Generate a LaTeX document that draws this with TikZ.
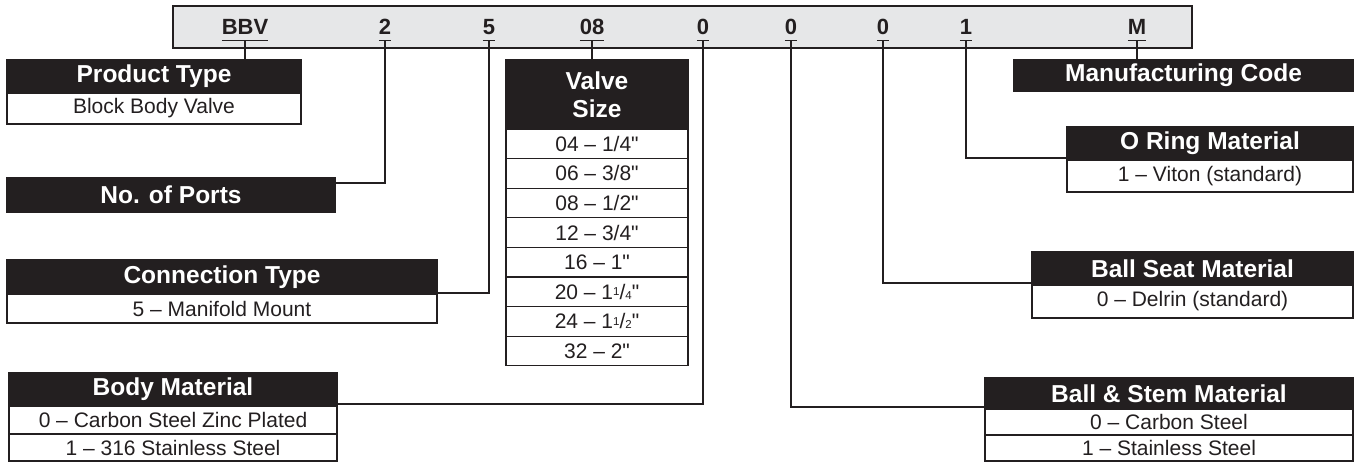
\documentclass[tikz,border=0pt]{standalone}
\usepackage{fontspec}
\setmainfont{Liberation Sans}
\newfontfamily\plainsans[Ligatures=TeXOff]{Liberation Sans}
\definecolor{ink}{HTML}{231F20}
\definecolor{barfill}{HTML}{E6E7E8}
\newcommand{\fracq}[2]{\raisebox{3.5pt}{\fontsize{11.5}{11.5}\selectfont #1}/{\fontsize{11.5}{11.5}\selectfont #2}}
\begin{document}
\begin{tikzpicture}[x=1pt,y=-1pt,
  every node/.style={inner sep=0pt,outer sep=0pt},
  hdr/.style={draw=ink,fill=ink,text=white,line width=1.2pt,anchor=north west,
    font=\fontsize{24.5}{28}\selectfont\bfseries,align=center},
  rowb/.style={draw=ink,fill=white,text=ink,line width=1.2pt,anchor=north west,
    font=\fontsize{21}{22}\selectfont},
  vrow/.style={rowb,minimum width=182,minimum height=29.6,font=\fontsize{21}{22}\selectfont\plainsans},
  code/.style={text=ink,anchor=base,font=\fontsize{22}{23}\selectfont\bfseries},
  conn/.style={draw=ink,line width=1.3pt},
  bar/.style={draw=ink,fill=barfill,line width=1.2pt,anchor=north west}
]
\useasboundingbox[fill=white] (0,0) rectangle (1354,462);

% code bar
\node[bar,minimum width=1019,minimum height=42] (bar) at (173,6) {};
\node[code] (cBBV) at (245,35) {BBV};
\node[code] (c2) at (385,35) {2};
\node[code] (c5) at (489,35) {5};
\node[code] (c08) at (592,35) {08};
\node[code] (c0a) at (703,35) {0};
\node[code] (c0b) at (791,35) {0};
\node[code] (c0c) at (883,35) {0};
\node[code] (c1) at (966,35) {1};
\node[code] (cM) at (1137,35) {M};
\foreach \c in {BBV,2,5,08,0a,0b,0c,1,M}{
  \draw[conn] ([yshift=-5.5pt]c\c.base west) -- ([yshift=-5.5pt]c\c.base east);
  \coordinate (u\c) at ([yshift=-5.5pt]c\c.base);
}

% Product Type
\node[hdr,minimum width=294,minimum height=33] (pth) at (7,60) {Product Type};
\node[rowb,minimum width=294,minimum height=31] (ptr) at (7,93) {Block Body Valve};

% No. of Ports
\node[hdr,minimum width=328,minimum height=34] (nph) at (7,178) {No. of Ports};

% Connection Type
\node[hdr,minimum width=430,minimum height=34] (cth) at (7,260) {Connection Type};
\node[rowb,minimum width=430,minimum height=29] (ctr) at (7,294) {5 -- Manifold Mount};

% Body Material
\node[hdr,minimum width=328,minimum height=33] (bmh) at (9,373) {Body Material};
\node[rowb,minimum width=328,minimum height=28] (bmr1) at (9,406) {0 -- Carbon Steel Zinc Plated};
\node[rowb,minimum width=328,minimum height=27] (bmr2) at (9,434) {1 -- 316 Stainless Steel};

% Valve Size
\node[hdr,minimum width=182,minimum height=69] (vsh) at (506,60) {Valve\\Size};
\node[vrow] (vs1) at (506,129) {04 – 1/4"};
\node[vrow] (vs2) at (506,158.6) {06 – 3/8"};
\node[vrow] (vs3) at (506,188.2) {08 – 1/2"};
\node[vrow] (vs4) at (506,217.8) {12 – 3/4"};
\node[vrow] (vs5) at (506,247.4) {16 – 1"};
\node[vrow] (vs6) at (506,277) {20 – 1\fracq{1}{4}"};
\node[vrow] (vs7) at (506,306.6) {24 – 1\fracq{1}{2}"};
\node[vrow] (vs8) at (506,336.2) {32 – 2"};

% Manufacturing Code
\node[hdr,minimum width=339,minimum height=31] (mch) at (1014,60) {Manufacturing Code};

% O Ring Material
\node[hdr,minimum width=286,minimum height=33] (orh) at (1067,127) {O Ring Material};
\node[rowb,minimum width=286,minimum height=32] (orr) at (1067,160) {1 -- Viton (standard)};

% Ball Seat Material
\node[hdr,minimum width=321,minimum height=33] (bsh) at (1032,252) {Ball Seat Material};
\node[rowb,minimum width=321,minimum height=33] (bsr) at (1032,285) {0 -- Delrin (standard)};

% Ball & Stem Material
\node[hdr,minimum width=368,minimum height=31] (smh) at (985,378) {Ball \& Stem Material};
\node[rowb,minimum width=368,minimum height=26] (smr1) at (985,409) {0 -- Carbon Steel};
\node[rowb,minimum width=368,minimum height=26] (smr2) at (985,435) {1 -- Stainless Steel};

% connectors
\draw[conn] (uBBV) -- (uBBV |- pth.north);
\draw[conn] (u08) -- (u08 |- vsh.north);
\draw[conn] (uM) -- (uM |- mch.north);
\draw[conn] (u2) |- ([yshift=-5pt]nph.north east);
\draw[conn] (u5) |- ([yshift=1pt]cth.south east);
\draw[conn] (u0a) |- ([yshift=2pt]bmh.south east);
\draw[conn] (u0b) |- ([yshift=2pt]smh.south west);
\draw[conn] (u0c) |- ([yshift=2pt]bsh.south west);
\draw[conn] (u1) |- ([yshift=2pt]orh.south west);
\end{tikzpicture}
\end{document}
